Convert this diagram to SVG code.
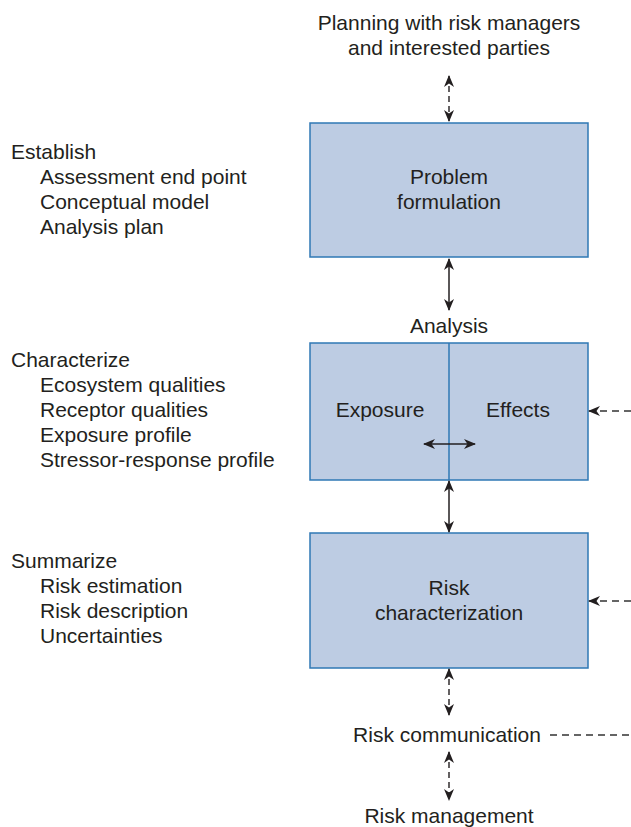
<svg xmlns="http://www.w3.org/2000/svg" width="631" height="827" viewBox="0 0 631 827">
  <style>
    text { font-family: "Liberation Sans", Arial, sans-serif; font-size: 21px; fill: #231f20; }
    .c { text-anchor: middle; }
    .box { fill: #bdcce3; stroke: #2f78b5; stroke-width: 1.5; }
    .solid { stroke: #231f20; stroke-width: 1.5; fill: none; }
    .dash { stroke: #231f20; stroke-width: 1.4; fill: none; stroke-dasharray: 6 4; }
    .dashh { stroke: #333; stroke-width: 1.3; fill: none; stroke-dasharray: 7 5; }
  </style>
  <defs>
    <marker id="head" viewBox="0 0 12 10" refX="11" refY="5" markerWidth="12" markerHeight="10" markerUnits="userSpaceOnUse" orient="auto-start-reverse">
      <path d="M0,0 L12,5 L0,10 L3.5,5 Z" fill="#231f20"/>
    </marker>
  </defs>

  <!-- top label -->
  <g id="planning">
    <text class="c" x="449" y="30">Planning with risk managers</text>
    <text class="c" x="449" y="55">and interested parties</text>
  </g>

  <!-- left-hand task lists -->
  <g id="establish">
    <text x="11" y="159">Establish</text>
    <text x="40" y="184">Assessment end point</text>
    <text x="40" y="209">Conceptual model</text>
    <text x="40" y="234">Analysis plan</text>
  </g>
  <g id="characterize">
    <text x="11" y="367">Characterize</text>
    <text x="40" y="392">Ecosystem qualities</text>
    <text x="40" y="417">Receptor qualities</text>
    <text x="40" y="442">Exposure profile</text>
    <text x="40" y="467">Stressor-response profile</text>
  </g>
  <g id="summarize">
    <text x="11" y="568">Summarize</text>
    <text x="40" y="593">Risk estimation</text>
    <text x="40" y="618">Risk description</text>
    <text x="40" y="643">Uncertainties</text>
  </g>

  <!-- main boxes -->
  <g id="problem-formulation">
    <rect class="box" x="310" y="123" width="278" height="134"/>
    <text class="c" x="449" y="184">Problem</text>
    <text class="c" x="449" y="209">formulation</text>
  </g>
  <g id="analysis">
    <text class="c" x="449" y="333">Analysis</text>
    <rect class="box" x="310" y="343" width="278" height="137"/>
    <line x1="449" y1="343" x2="449" y2="480" stroke="#2f78b5" stroke-width="1.5"/>
    <text class="c" x="380" y="417">Exposure</text>
    <text class="c" x="518" y="417">Effects</text>
  </g>
  <g id="risk-characterization">
    <rect class="box" x="310" y="533" width="278" height="135"/>
    <text class="c" x="449" y="595">Risk</text>
    <text class="c" x="449" y="620">characterization</text>
  </g>
  <g id="risk-communication">
    <text class="c" x="447" y="742">Risk communication</text>
  </g>
  <g id="risk-management">
    <text class="c" x="449" y="823">Risk management</text>
  </g>

  <!-- connectors -->
  <g id="connectors">
    <line class="dash" x1="449" y1="76" x2="449" y2="121" marker-start="url(#head)" marker-end="url(#head)"/>
    <line class="solid" x1="449" y1="259" x2="449" y2="310" marker-start="url(#head)" marker-end="url(#head)"/>
    <line class="solid" x1="424" y1="444" x2="475" y2="444" marker-start="url(#head)" marker-end="url(#head)"/>
    <line class="solid" x1="449" y1="481" x2="449" y2="532" marker-start="url(#head)" marker-end="url(#head)"/>
    <line class="dash" x1="449" y1="669" x2="449" y2="715" marker-start="url(#head)" marker-end="url(#head)"/>
    <line class="dash" x1="449" y1="752" x2="449" y2="800" marker-start="url(#head)" marker-end="url(#head)"/>
    <line class="dashh" x1="631" y1="411" x2="589" y2="411" marker-end="url(#head)"/>
    <line class="dashh" x1="631" y1="601" x2="589" y2="601" marker-end="url(#head)"/>
    <line class="dashh" x1="550" y1="735" x2="631" y2="735"/>
  </g>
</svg>
